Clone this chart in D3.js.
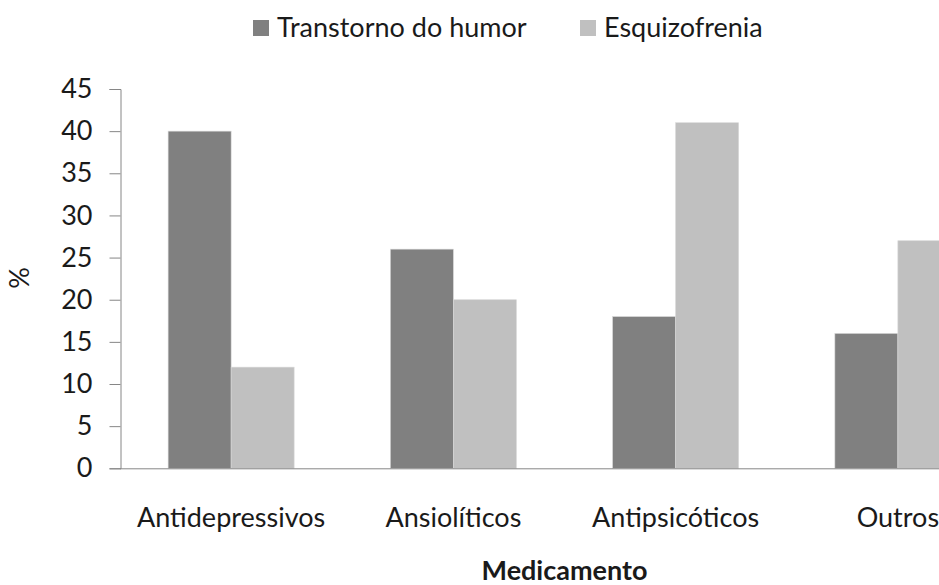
<!DOCTYPE html>
<html lang="pt">
<head>
<meta charset="UTF-8">
<title>Medicamento</title>
<script src="https://d3js.org/d3.v7.min.js"></script>
<style>
  body { margin: 0; background: #fff; }
  svg text { font-family: Lato, "Open Sans", sans-serif; fill: #1a1a1a; }
</style>
</head>
<body>
<div id="chart"></div>
<script>
// data
const categories = ["Antidepressivos", "Ansiolíticos", "Antipsicóticos", "Outros"];
const seriesNames = ["Transtorno do humor", "Esquizofrenia"];
const humor = [40, 26, 18, 16];
const esquizofrenia = [12, 20, 41, 27];
const yTicks = [0, 5, 10, 15, 20, 25, 30, 35, 40, 45];

const W = 939, H = 585;
const margin = { top: 89, left: 120, bottom: 117 };
// plot continues past the right edge of the picture (cropped)
const plotRight = 1009;
const fontSize = "27px";

const svg = d3.select("#chart").append("svg")
  .attr("width", W)
  .attr("height", H);

const x0 = d3.scaleBand().domain(categories)
  .range([margin.left, plotRight]).paddingInner(0.433).paddingOuter(0.2165);
const x1 = d3.scaleBand().domain(seriesNames).range([0, x0.bandwidth()]);
const y = d3.scaleLinear().domain([0, 45]).range([H - margin.bottom + 0.3, margin.top]);
const color = d3.scaleOrdinal(seriesNames, ["#808080", "#c0c0c0"]);

const rows = categories.map((c, i) => ({ cat: c, vals: [humor[i], esquizofrenia[i]] }));

// bars
svg.append("g").selectAll("g")
  .data(rows)
  .join("g")
  .attr("transform", d => `translate(${x0(d.cat)},0)`)
  .selectAll("rect")
  .data(d => d.vals.map((v, j) => ({ name: seriesNames[j], v })))
  .join("rect")
  .attr("x", d => x1(d.name))
  .attr("y", d => y(d.v))
  .attr("width", x1.bandwidth())
  .attr("height", d => y(0) - y(d.v))
  .attr("fill", d => color(d.name))
  .attr("stroke", "#d8d8d8")
  .attr("stroke-width", 0.6);

// y axis
const yAxis = svg.append("g")
  .attr("transform", `translate(${margin.left + 0.5},0)`)
  .call(d3.axisLeft(y).tickValues(yTicks).tickSize(11).tickPadding(17));
yAxis.selectAll("line, path").attr("stroke", "#868686");
yAxis.selectAll("text").style("font-size", fontSize).attr("fill", "#1a1a1a");

// x axis baseline
svg.append("line")
  .attr("x1", margin.left).attr("x2", W)
  .attr("y1", y(0) + 0.5).attr("y2", y(0) + 0.5)
  .attr("stroke", "#868686");

// category labels
svg.append("g").selectAll("text")
  .data(categories)
  .join("text")
  .attr("x", d => x0(d) + x0.bandwidth() / 2)
  .attr("y", 527)
  .attr("text-anchor", "middle")
  .style("font-size", fontSize)
  .text(d => d);

// axis titles
svg.append("text")
  .attr("x", (margin.left + plotRight) / 2).attr("y", 580)
  .attr("text-anchor", "middle")
  .style("font-size", fontSize)
  .style("font-weight", "bold")
  .text("Medicamento");

svg.append("text")
  .attr("transform", "translate(29,278) rotate(-90)")
  .attr("text-anchor", "middle")
  .style("font-size", fontSize)
  .text("%");

// legend
const legendX = [253, 580];
const legend = svg.append("g").selectAll("g")
  .data(seriesNames)
  .join("g")
  .attr("transform", (d, i) => `translate(${legendX[i]},20)`);
legend.append("rect")
  .attr("width", 16).attr("height", 16)
  .attr("fill", d => color(d));
legend.append("text")
  .attr("x", 24).attr("y", 17)
  .style("font-size", fontSize)
  .text(d => d);
</script>
</body>
</html>
